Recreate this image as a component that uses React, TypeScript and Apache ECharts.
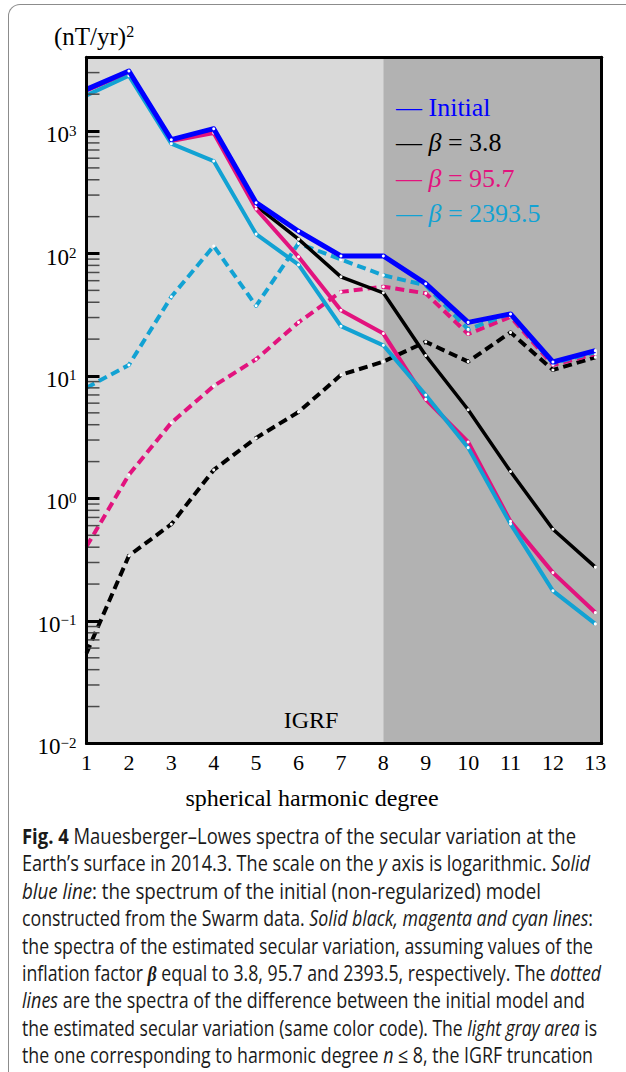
import React, { useEffect, useLayoutEffect, useRef } from "react";
import * as echarts from "echarts";

// ---------- data ----------
const degrees = [1, 2, 3, 4, 5, 6, 7, 8, 9, 10, 11, 12, 13];
const initialSpec = [2190, 3090, 850, 1045, 260, 152, 95.5, 95.5, 56.7, 27.4, 32.1, 13.0, 16.1];
const beta38Spec = [2170, 3050, 840, 1000, 245, 131, 64.5, 47.8, 14.7, 5.3, 1.66, 0.56, 0.275];
const beta957Spec = [2150, 3000, 829, 963, 231, 94, 34.4, 22.2, 6.44, 2.89, 0.65, 0.248, 0.117];
const beta23935Spec = [1955, 2830, 789, 569, 144, 81, 25.5, 17.8, 6.98, 2.6, 0.62, 0.176, 0.0946];
const diff38 = [0.0546, 0.341, 0.616, 1.71, 3.12, 5.08, 10.2, 13.1, 19.0, 13.1, 22.7, 11.2, 14.2];
const diff957 = [0.405, 1.56, 4.15, 8.28, 13.7, 27.4, 48.6, 53.6, 47.3, 22.0, 30.4, 12.3, 15.1];
const diff23935 = [8.02, 12.3, 44.3, 115, 37.4, 121, 89.3, 66.5, 55, 24, 32.5, 12.7, 15.6];
const legendNames = ["Initial", "3.8", "95.7", "2393.5"];
const yDecades = [-2, -1, 0, 1, 2, 3];
const minorMultipliers = [2, 3, 4, 5, 6, 7, 8, 9];
const yMin = 0.01;
const yMax = 4000;
const xMin = 1;
const xMax = 13.15;
const igrfDegree = 8;

const captionLines: { t: string; b?: boolean; i?: boolean }[][] = [
  [{ t: "Fig. 4", b: true }, { t: " Mauesberger–Lowes spectra of the secular variation at the" }],
  [{ t: "Earth’s surface in 2014.3. The scale on the " }, { t: "y", i: true }, { t: " axis is logarithmic. " }, { t: "Solid", i: true }],
  [{ t: "blue line", i: true }, { t: ": the spectrum of the initial (non-regularized) model" }],
  [{ t: "constructed from the Swarm data. " }, { t: "Solid black, magenta and cyan lines", i: true }, { t: ":" }],
  [{ t: "the spectra of the estimated secular variation, assuming values of the" }],
  [{ t: "inflation factor " }, { t: "β", i: true, b: true }, { t: " equal to 3.8, 95.7 and 2393.5, respectively. The " }, { t: "dotted", i: true }],
  [{ t: "lines", i: true }, { t: " are the spectra of the difference between the initial model and" }],
  [{ t: "the estimated secular variation (same color code). The " }, { t: "light gray area", i: true }, { t: " is" }],
  [{ t: "the one corresponding to harmonic degree " }, { t: "n", i: true }, { t: " ≤ 8, the IGRF truncation" }],
];
const captionRightEdges = [576, 590, 541, 593, 593, 601, 585, 597, 593];

// ---------- styles ----------
const SERIF = '"Liberation Serif", "Times New Roman", serif';
const BLUE = "#0000ff";
const BLACK = "#000000";
const MAGENTA = "#e2137e";
const CYAN = "#12a2d3";

const pairs = (vals: number[]) => degrees.map((d, i) => [d, vals[i]]);

const lineSeries = (name: string, vals: number[], color: string, width: number, dashed: boolean, z: number, extra: any = {}) => ({
  type: "line",
  name,
  data: pairs(vals),
  symbol: "circle",
  symbolSize: 3,
  showAllSymbol: true,
  itemStyle: { color: "#ffffff", borderWidth: 0 },
  lineStyle: { color, width, type: dashed ? [9, 5] : "solid", cap: "butt", join: "round" },
  z,
  silent: true,
  emphasis: { disabled: true },
  ...extra,
});

function Chart() {
  const ref = useRef<HTMLDivElement>(null);
  useEffect(() => {
    if (!ref.current) return;
    const chart = echarts.init(ref.current, undefined, { renderer: "svg" });
    const minorTicks: number[][] = [];
    yDecades.forEach((k) => {
      minorMultipliers.forEach((m) => {
        const v = m * Math.pow(10, k);
        if (v < yMax) minorTicks.push([xMin, v]);
      });
    });
    const sup = (e: number) => (e < 0 ? "−" + -e : String(e));
    const colors = [BLUE, BLACK, MAGENTA, CYAN];
    const legendGraphics = legendNames.map((nm, i) => ({
      type: "text",
      x: 396,
      y: 107 + i * 35.5,
      z: 100,
      style: {
        text: i === 0 ? "— " + nm : "— {i|β} = " + nm,
        font: "26px " + SERIF,
        fill: colors[i],
        textVerticalAlign: "middle",
        rich: { i: { fontStyle: "italic", fontSize: 26, fontFamily: SERIF, fill: colors[i] } },
      },
    }));
    chart.setOption({
      animation: false,
      backgroundColor: "transparent",
      grid: { left: 86.5, top: 57.3, right: 24.3, bottom: 820 - 743.4 },
      xAxis: [
        {
          type: "value",
          min: xMin,
          max: xMax,
          interval: 1,
          position: "bottom",
          z: 10,
          axisLine: { show: true, onZero: false, lineStyle: { color: BLACK, width: 3 } },
          axisTick: { show: false },
          splitLine: { show: false },
          axisLabel: {
            margin: 8,
            fontFamily: SERIF,
            fontSize: 22,
            color: BLACK,
            formatter: (v: number) => (Math.abs(v - Math.round(v)) < 1e-6 ? String(Math.round(v)) : ""),
          },
        },
        {
          type: "value",
          min: xMin,
          max: xMax,
          position: "top",
          z: 10,
          axisLine: { show: true, onZero: false, lineStyle: { color: BLACK, width: 3 } },
          axisTick: { show: false },
          axisLabel: { show: false },
          splitLine: { show: false },
        },
      ],
      yAxis: [
        {
          type: "log",
          logBase: 10,
          min: yMin,
          max: yMax,
          z: 10,
          axisLine: { show: true, onZero: false, lineStyle: { color: BLACK, width: 3 } },
          axisTick: { show: true, inside: true, length: 13, lineStyle: { color: BLACK, width: 3 } },
          splitLine: { show: false },
          axisLabel: {
            margin: 10,
            padding: [7, 0, 0, 0],
            formatter: (v: number) => {
              const l = Math.log10(v);
              const e = Math.round(l);
              if (Math.abs(l - e) > 1e-6) return "";
              return "{b|10}{s|" + sup(e) + "}";
            },
            rich: {
              b: { fontFamily: SERIF, fontSize: 23, lineHeight: 23, color: BLACK, verticalAlign: "bottom" },
              s: { fontFamily: SERIF, fontSize: 15, lineHeight: 15, color: BLACK, verticalAlign: "top" },
            },
          },
        },
        {
          type: "value",
          min: 0,
          max: 1,
          position: "right",
          z: 10,
          axisLine: { show: true, onZero: false, lineStyle: { color: BLACK, width: 3 } },
          axisTick: { show: false },
          axisLabel: { show: false },
          splitLine: { show: false },
        },
      ],
      series: [
        lineSeries("diff β=3.8", diff38, BLACK, 4, true, 2, {
          markArea: {
            silent: true,
            z: 1,
            data: [
              [{ xAxis: xMin, itemStyle: { color: "#d9d9d9" } }, { xAxis: igrfDegree }],
              [{ xAxis: igrfDegree, itemStyle: { color: "#b2b2b2" } }, { xAxis: xMax }],
            ],
          },
        }),
        lineSeries("diff β=95.7", diff957, MAGENTA, 4, true, 2),
        lineSeries("diff β=2393.5", diff23935, CYAN, 4, true, 2),
        lineSeries("β=3.8", beta38Spec, BLACK, 3.5, false, 3),
        lineSeries("β=95.7", beta957Spec, MAGENTA, 4, false, 3),
        lineSeries("β=2393.5", beta23935Spec, CYAN, 4, false, 3),
        lineSeries("Initial", initialSpec, BLUE, 5, false, 4),
        {
          type: "custom",
          coordinateSystem: "cartesian2d",
          data: minorTicks,
          silent: true,
          clip: false,
          z: 9,
          renderItem: (params: any, api: any) => {
            const p = api.coord([api.value(0), api.value(1)]);
            return {
              type: "line",
              shape: { x1: p[0] + 1.5, y1: p[1], x2: p[0] + 13, y2: p[1] },
              style: { stroke: "#4a4a4a", lineWidth: 1.5 },
            };
          },
        },
      ],
      graphic: [
        {
          type: "text",
          x: 54,
          y: 36,
          z: 100,
          style: {
            text: "{a|(nT/yr)}{s|2}",
            textVerticalAlign: "middle",
            rich: {
              a: { fontFamily: SERIF, fontSize: 25, lineHeight: 25, fill: BLACK, verticalAlign: "bottom" },
              s: { fontFamily: SERIF, fontSize: 16, lineHeight: 16, fill: BLACK, verticalAlign: "top" },
            },
          },
        },
        ...legendGraphics,
        {
          type: "text",
          x: 311,
          y: 720,
          z: 100,
          style: { text: "IGRF", font: "24px " + SERIF, fill: BLACK, textAlign: "center", textVerticalAlign: "middle" },
        },
        {
          type: "text",
          x: 312,
          y: 798,
          z: 100,
          style: {
            text: "spherical harmonic degree",
            font: "24px " + SERIF,
            fill: BLACK,
            textAlign: "center",
            textVerticalAlign: "middle",
          },
        },
      ],
    });
    return () => chart.dispose();
  }, []);
  return <div ref={ref} style={{ position: "absolute", left: 0, top: 0, width: 626, height: 820 }} />;
}

function Caption() {
  const refs = useRef<(HTMLDivElement | null)[]>([]);
  useLayoutEffect(() => {
    const fit = () => {
      refs.current.forEach((el, i) => {
        if (!el) return;
        el.style.transform = "none";
        const w = el.getBoundingClientRect().width;
        const target = captionRightEdges[i] - 22;
        if (w > 0) el.style.transform = `scaleX(${target / w})`;
      });
    };
    fit();
    const fonts = (document as any).fonts;
    if (fonts && fonts.ready) fonts.ready.then(fit);
  }, []);
  return (
    <>
      {captionLines.map((segs, i) => (
        <div
          key={i}
          ref={(el) => {
            refs.current[i] = el;
          }}
          style={{
            position: "absolute",
            left: 22,
            top: 836 + i * 27.4 - 13,
            height: 26,
            lineHeight: "26px",
            whiteSpace: "nowrap",
            fontFamily: '"Open Sans", "Noto Sans", sans-serif',
            fontSize: 21,
            color: "#1a1a1a",
            transformOrigin: "0 50%",
            display: "inline-block",
          }}
        >
          {segs.map((s, j) => (
            <span
              key={j}
              style={{
                fontWeight: s.b ? 700 : 400,
                fontStyle: s.i ? "italic" : "normal",
                fontFamily: s.t === "β" ? SERIF : undefined,
              }}
            >
              {s.t}
            </span>
          ))}
        </div>
      ))}
    </>
  );
}

export default function App() {
  return (
    <div
      style={{
        position: "absolute",
        left: 0,
        top: 0,
        width: 626,
        height: 1072,
        overflow: "hidden",
        background: "#ffffff",
      }}
    >
      <div
        style={{
          position: "absolute",
          left: 7.5,
          top: 4,
          width: 720,
          height: 1068,
          border: "1.5px solid #8c8c8c",
          borderBottom: "none",
          borderRadius: "12px 12px 0 0",
          boxSizing: "border-box",
        }}
      />
      <Chart />
      <Caption />
    </div>
  );
}
